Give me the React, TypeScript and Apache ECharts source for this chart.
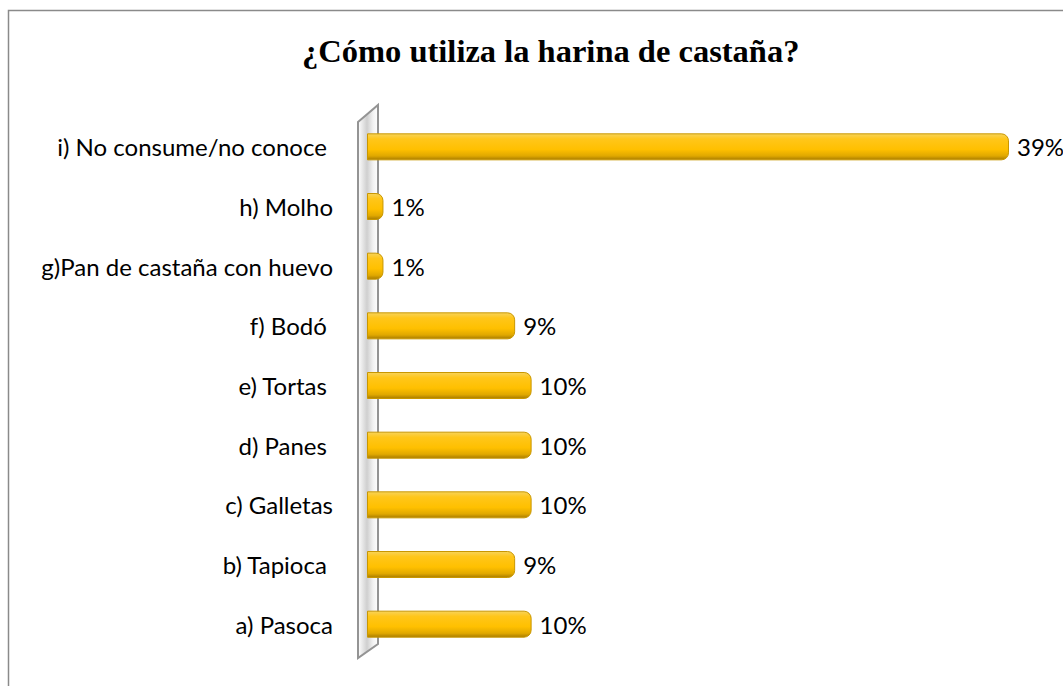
import React, { useEffect, useRef } from "react";
import * as echarts from "echarts";

const categories = [
  "a) Pasoca",
  "b) Tapioca ",
  "c) Galletas",
  "d) Panes ",
  "e) Tortas ",
  "f) Bodó ",
  "g)Pan de castaña con huevo",
  "h) Molho",
  "i) No consume/no conoce ",
];
const values = [10, 9, 10, 10, 10, 9, 1, 1, 39];
const titleText = "¿Cómo utiliza la harina de castaña?";

const W = 1063;
const H = 686;
const GRID_LEFT = 367;
const GRID_RIGHT = 54;
const GRID_TOP = 117;
const GRID_BOTTOM = 32;

export default function App() {
  const ref = useRef<HTMLDivElement>(null);
  useEffect(() => {
    if (!ref.current) return;
    const chart = echarts.init(ref.current, null, { renderer: "svg" });
    const wallL = 358;
    const wallR = 378;
    chart.setOption({
      animation: false,
      backgroundColor: "#ffffff",
      title: {
        text: titleText,
        left: 297,
        top: 29,
        textStyle: {
          fontFamily: "Liberation Serif",
          fontWeight: "bold",
          fontSize: 32.5,
          color: "#000",
        },
      },
      graphic: [
        {
          type: "rect",
          shape: { x: 8.5, y: 10.5, width: 1200, height: 900 },
          style: { fill: "none", stroke: "#8a8a8a", lineWidth: 1.5 },
          silent: true,
          z: 0,
        },
        {
          type: "polygon",
          shape: {
            points: [
              [wallL, 122],
              [wallR, 105],
              [wallR, 644],
              [wallL, 658],
            ],
          },
          style: {
            fill: new echarts.graphic.LinearGradient(0, 0, 1, 0, [
              { offset: 0, color: "#ffffff" },
              { offset: 0.45, color: "#cfcfcf" },
              { offset: 0.75, color: "#f2f2f2" },
              { offset: 1, color: "#ffffff" },
            ]),
            stroke: "#949494",
            lineWidth: 2,
          },
          silent: true,
          z: 0,
        },
      ],
      grid: {
        left: GRID_LEFT,
        right: GRID_RIGHT,
        top: GRID_TOP,
        bottom: GRID_BOTTOM,
        containLabel: false,
      },
      xAxis: {
        type: "value",
        min: 0,
        max: 39,
        show: false,
      },
      yAxis: {
        type: "category",
        data: categories,
        axisLine: { show: false },
        axisTick: { show: false },
        axisLabel: {
          fontFamily: "Lato",
          fontSize: 24,
          color: "#000",
          margin: 34,
        },
      },
      series: [
        {
          type: "bar",
          data: values,
          barWidth: 27,
          z: 5,
          itemStyle: {
            color: new echarts.graphic.LinearGradient(0, 0, 0, 1, [
              { offset: 0, color: "#f7d35a" },
              { offset: 0.2, color: "#ffc61a" },
              { offset: 0.6, color: "#ffc000" },
              { offset: 0.85, color: "#e0a800" },
              { offset: 1, color: "#a87c00" },
            ]),
            borderRadius: [0, 7, 7, 0],
            borderColor: "#c99700",
            borderWidth: 1,
          },
          label: {
            show: true,
            position: "right",
            distance: 8,
            formatter: "{c}%",
            fontFamily: "Lato",
            fontSize: 24,
            color: "#000",
          },
        },
      ],
    });
    return () => chart.dispose();
  }, []);
  return (
    <div
      ref={ref}
      style={{ position: "absolute", left: 0, top: 0, width: W, height: H }}
    />
  );
}
